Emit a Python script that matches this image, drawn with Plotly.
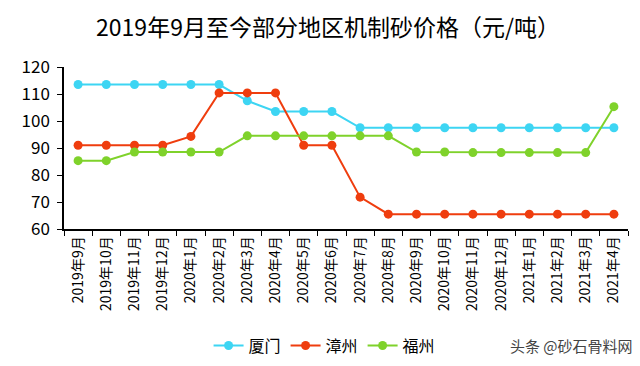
import plotly.graph_objects as go

months = ["2019年9月", "2019年10月", "2019年11月", "2019年12月", "2020年1月", "2020年2月",
          "2020年3月", "2020年4月", "2020年5月", "2020年6月", "2020年7月", "2020年8月",
          "2020年9月", "2020年10月", "2020年11月", "2020年12月", "2021年1月", "2021年2月",
          "2021年3月", "2021年4月"]
xiamen = [113.5, 113.5, 113.5, 113.5, 113.5, 113.5, 107.5, 103.5, 103.5, 103.5,
          97.5, 97.5, 97.5, 97.5, 97.5, 97.5, 97.5, 97.5, 97.5, 97.5]
zhangzhou = [91, 91, 91, 91, 94.3, 110.4, 110.4, 110.4, 91, 91,
             71.8, 65.5, 65.5, 65.5, 65.5, 65.5, 65.5, 65.5, 65.5, 65.5]
fuzhou = [85.3, 85.3, 88.5, 88.5, 88.5, 88.5, 94.5, 94.5, 94.5, 94.5,
          94.5, 94.5, 88.5, 88.5, 88.3, 88.3, 88.3, 88.3, 88.3, 105.3]

series = [("厦门", xiamen, "#3dd5f3"), ("漳州", zhangzhou, "#ef3d0e"), ("福州", fuzhou, "#7fd22b")]

font = "Noto Sans CJK SC"
fig = go.Figure()
for name, vals, color in series:
    fig.add_trace(go.Scatter(x=months, y=vals, name=name, mode="lines+markers",
                             line=dict(color=color, width=2),
                             marker=dict(color=color, size=9)))

fig.update_layout(
    width=640, height=366,
    margin=dict(l=56, r=20, t=59, b=140),
    paper_bgcolor="white", plot_bgcolor="white",
    font=dict(family=font, color="#000"),
    title=dict(text="2019年9月至今部分地区机制砂价格（元/吨）", x=0.5, xanchor="center",
               y=0.945, yanchor="middle", font=dict(size=23, color="#000", family=font)),
    legend=dict(orientation="h", x=0.462, xanchor="center", y=-0.72, yanchor="middle",
                font=dict(size=16, color="#000", family=font), itemwidth=30,
                tracegroupgap=0),
    showlegend=True,
)
fig.update_xaxes(showline=True, linecolor="black", linewidth=1.5, showgrid=False,
                 ticks="outside", ticklen=5, tickcolor="black", tickson="boundaries",
                 tickangle=-90, tickfont=dict(size=14, color="#000", family=font),
                 range=[-0.5, 19.5])
fig.update_yaxes(showline=True, linecolor="black", linewidth=1.5, showgrid=False,
                 ticks="outside", ticklen=5, tickcolor="black", range=[60, 120],
                 dtick=10, tickfont=dict(size=17, color="#000", family=font), zeroline=False,
                 ticklabelstandoff=4)
fig.add_annotation(text="头条 @砂石骨料网", xref="paper", yref="paper", x=1.012, y=-0.72,
                   xanchor="right", yanchor="middle", showarrow=False,
                   font=dict(size=15, color="#444", family=font))
fig.write_html("out.html")
